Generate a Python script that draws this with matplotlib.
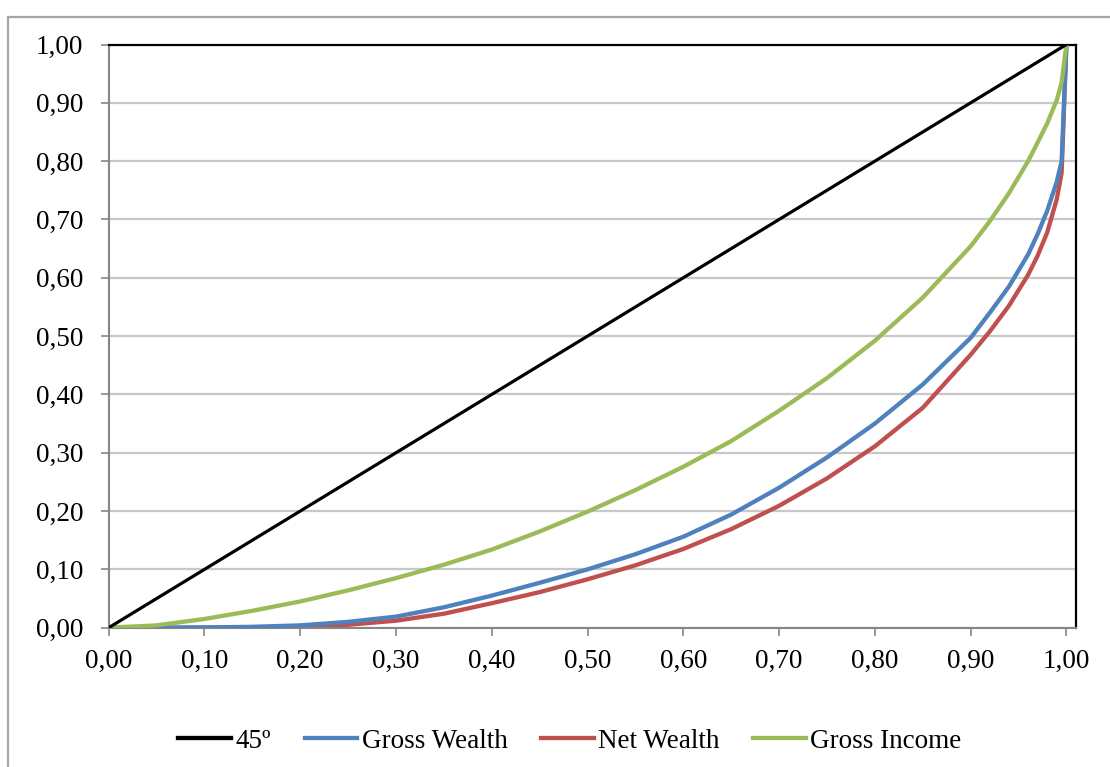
import matplotlib
matplotlib.use("Agg")
import matplotlib.pyplot as plt
from matplotlib.patches import Rectangle
from matplotlib.ticker import FuncFormatter, MultipleLocator

# ---- data ----
x_share = [0.00, 0.05, 0.10, 0.15, 0.20, 0.25, 0.30, 0.35, 0.40, 0.45, 0.50,
           0.55, 0.60, 0.65, 0.70, 0.75, 0.80, 0.85, 0.90, 0.92, 0.94, 0.96,
           0.97, 0.98, 0.99, 0.995, 1.00]
x_45 = [0.00, 1.00]
line_45 = [0.00, 1.00]
gross_wealth = [0.000, 0.000, 0.0005, 0.0015, 0.004, 0.010, 0.019, 0.035, 0.055, 0.077, 0.100,
                0.126, 0.156, 0.194, 0.240, 0.292, 0.350, 0.417, 0.497, 0.540, 0.585, 0.640,
                0.675, 0.715, 0.765, 0.800, 1.000]
net_wealth = [0.000, 0.000, 0.000, 0.000, 0.002, 0.005, 0.012, 0.024, 0.042, 0.061, 0.083,
              0.107, 0.135, 0.169, 0.209, 0.256, 0.311, 0.377, 0.468, 0.508, 0.552, 0.605,
              0.638, 0.678, 0.735, 0.780, 1.000]
gross_income = [0.000, 0.004, 0.015, 0.029, 0.045, 0.064, 0.085, 0.108, 0.134, 0.165, 0.199,
                0.236, 0.276, 0.320, 0.372, 0.428, 0.492, 0.566, 0.654, 0.697, 0.745, 0.800,
                0.832, 0.865, 0.905, 0.935, 1.000]
series_names = ["45º", "Gross Wealth", "Net Wealth", "Gross Income"]
series_colors = ["#000000", "#4F81BD", "#C0504D", "#9BBB59"]

W, H = 1110, 767
fig = plt.figure(figsize=(W / 100, H / 100), dpi=100)
plt.rcParams['font.family'] = ['Liberation Serif', 'DejaVu Serif']

# outer chart-area border (top and left visible only)
fig.patches.append(Rectangle((8 / W, -0.1), 1.2, 1 - 17 / H + 0.1, transform=fig.transFigure,
                             fill=False, edgecolor="#A6A6A6", linewidth=1.6, zorder=0))
# cut-off title descender (title lies above the visible area)
fig.text(323 / W, 1 + 8.5 / H, "g", ha="center", va="baseline", fontsize=20,
         fontweight="bold", color="black")

left, right = 108.7 / W, 1075.5 / W
bottom, top = 1 - 627.7 / H, 1 - 44.5 / H
ax = fig.add_axes([left, bottom, right - left, top - bottom])

ax.plot(x_45, line_45, color=series_colors[0], lw=2.3, label=series_names[0], zorder=5)
ax.plot(x_share, gross_wealth, color=series_colors[1], lw=3.1, label=series_names[1],
        zorder=3, solid_joinstyle="round")
ax.plot(x_share, net_wealth, color=series_colors[2], lw=3.1, label=series_names[2],
        zorder=2, solid_joinstyle="round")
ax.plot(x_share, gross_income, color=series_colors[3], lw=3.1, label=series_names[3],
        zorder=4, solid_joinstyle="round")

ax.set_xlim(0, 1.0095)
ax.set_ylim(0, 1.0)
ax.xaxis.set_major_locator(MultipleLocator(0.1))
ax.yaxis.set_major_locator(MultipleLocator(0.1))
fmt = FuncFormatter(lambda v, p: f"{v:.2f}".replace(".", ","))
ax.xaxis.set_major_formatter(fmt)
ax.yaxis.set_major_formatter(fmt)

ax.grid(axis="y", color="#C8C8C8", linewidth=1.6, zorder=0)
ax.set_axisbelow(True)
for s in ("left", "bottom"):
    ax.spines[s].set_color("#868686")
    ax.spines[s].set_linewidth(1.5)
for s in ("top", "right"):
    ax.spines[s].set_color("black")
    ax.spines[s].set_linewidth(1.6)

ax.tick_params(axis="both", direction="out", length=5.5, width=1.2, color="#868686",
               labelsize=19.5, labelcolor="black")
ax.tick_params(axis="y", pad=13)
ax.tick_params(axis="x", pad=10)

leg = fig.legend(loc="center", bbox_to_anchor=(570 / W, 1 - 741 / H), ncol=4,
                 frameon=False, fontsize=19.5, handlelength=1.95, handletextpad=0.15,
                 columnspacing=1.25)
for h in leg.get_lines():
    h.set_linewidth(3.1)

fig.savefig("out.png", dpi=100)
